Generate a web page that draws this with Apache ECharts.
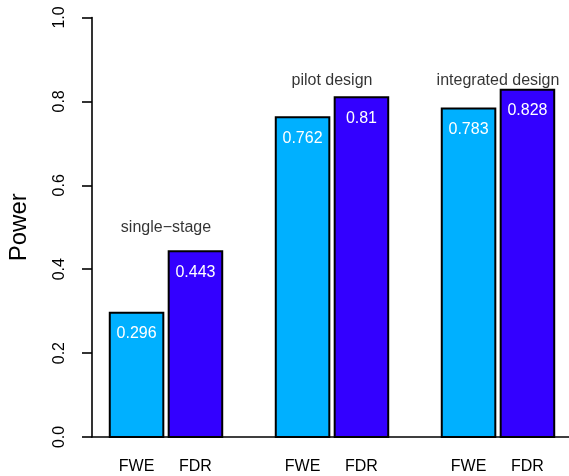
<!DOCTYPE html>
<html>
<head>
<meta charset="utf-8">
<script src="https://cdn.jsdelivr.net/npm/echarts@6/dist/echarts.min.js"></script>
<style>html,body{margin:0;padding:0;background:#fff}#chart{width:569px;height:476px}</style>
</head>
<body>
<div id="chart"></div>
<script>
// ---- data ----
var groups = ['single\u2212stage', 'pilot design', 'integrated design'];
var seriesNames = ['FWE', 'FDR'];
var fweValues = [0.296, 0.762, 0.783];
var fdrValues = [0.443, 0.81, 0.828];
var groupLabelY = [0.5, 0.85, 0.85];
var yTicks = [0, 0.2, 0.4, 0.6, 0.8, 1.0];

// R barplot layout (bar width 1, space within group 0.1, between groups 1)
var spaceWithin = 0.1, spaceBetween = 1, barW = 1;
function barLeft(g, k) { return spaceBetween + g * (2 * barW + spaceWithin + spaceBetween) + k * (barW + spaceWithin); }
function barCenter(g, k) { return barLeft(g, k) + barW / 2; }
var xMinData = barLeft(0, 0), xMaxData = barLeft(groups.length - 1, 1) + barW;
var ext = (xMaxData - xMinData) * 0.04;
var xMin = xMinData - ext, xMax = xMaxData + ext;

var fweData = fweValues.map(function (v, g) { return [barCenter(g, 0), v]; });
var fdrData = fdrValues.map(function (v, g) { return [barCenter(g, 1), v]; });
var labelData = groups.map(function (name, g) { return { value: [(barCenter(g, 0) + barCenter(g, 1)) / 2, groupLabelY[g]], name: name }; });
var tickPositions = [];
var tickNames = {};
groups.forEach(function (n, g) {
  [0, 1].forEach(function (k) { var c = barCenter(g, k); tickPositions.push(c); tickNames[c.toFixed(4)] = seriesNames[k]; });
});

var FONT = '"Liberation Sans", Arial, Helvetica, sans-serif';
function barSeries(name, data, color) {
  return {
    type: 'custom', name: name, data: data, silent: true,
    renderItem: function (params, api) {
      var x = api.value(0), y = api.value(1);
      var p1 = api.coord([x - barW / 2, y]);
      var p2 = api.coord([x + barW / 2, 0]);
      return {
        type: 'group',
        children: [
          { type: 'rect', shape: { x: p1[0], y: p1[1], width: p2[0] - p1[0], height: p2[1] - p1[1] },
            style: { fill: color, stroke: '#000', lineWidth: 2 } },
          { type: 'text', x: (p1[0] + p2[0]) / 2, y: p1[1] + 21,
            style: { text: String(y), fill: '#fff', font: '16px ' + FONT, align: 'center', verticalAlign: 'middle' } }
        ]
      };
    }
  };
}

var chart = echarts.init(document.getElementById('chart'), null, { renderer: 'canvas' });
chart.setOption({
  animation: false,
  backgroundColor: '#ffffff',
  grid: { left: 92, right: -3, top: 17.5, bottom: 39, containLabel: false, outerBoundsMode: 'none' },
  xAxis: {
    type: 'value', min: xMin, max: xMax,
    axisLine: { show: true, onZero: false, lineStyle: { color: '#000', width: 1.6 } },
    axisTick: { show: false },
    splitLine: { show: false },
    axisLabel: {
      customValues: tickPositions,
      margin: 22, color: '#000', fontFamily: FONT, fontSize: 16,
      formatter: function (v) { return tickNames[Number(v).toFixed(4)] || ''; }
    }
  },
  yAxis: {
    type: 'value', min: 0, max: 1, interval: 0.2,
    name: 'Power', nameLocation: 'middle', nameGap: 61, nameRotate: 90,
    nameTextStyle: { fontFamily: FONT, fontSize: 24, color: '#000' },
    axisLine: { show: true, lineStyle: { color: '#000', width: 1.6 } },
    axisTick: { show: true, length: 10, lineStyle: { color: '#000', width: 1.6 } },
    splitLine: { show: false },
    axisLabel: {
      rotate: 90, margin: 24, color: '#000', fontFamily: FONT, fontSize: 16,
      formatter: function (v) { return Number(v).toFixed(1); }
    }
  },
  series: [
    barSeries(seriesNames[0], fweData, '#00B0FF'),
    barSeries(seriesNames[1], fdrData, '#3300FF'),
    {
      type: 'scatter', data: labelData, symbolSize: 0, silent: true,
      label: {
        show: true, position: 'inside', color: '#000', fontFamily: FONT, fontSize: 16,
        formatter: function (p) { return p.name; }
      }
    }
  ]
});
</script>
</body>
</html>
